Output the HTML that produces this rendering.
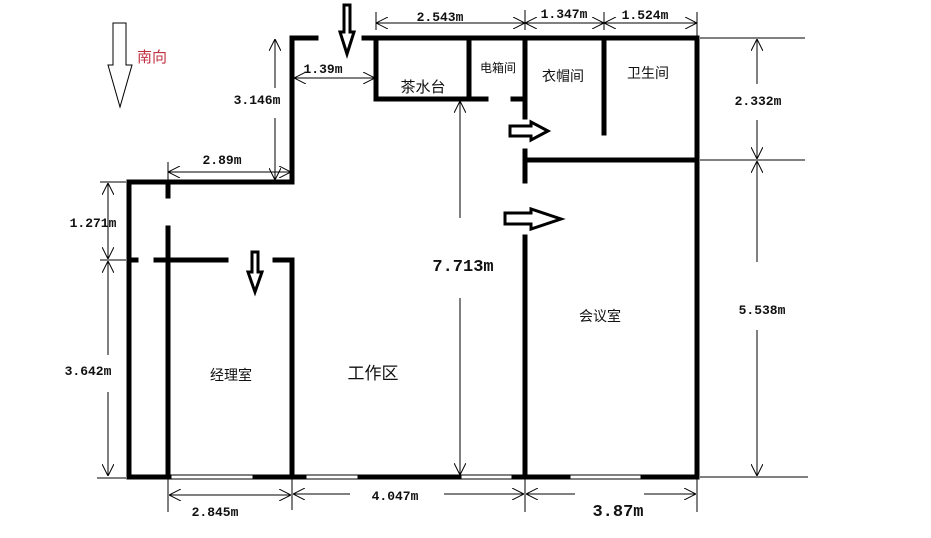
<!DOCTYPE html>
<html><head><meta charset="utf-8"><style>
html,body{margin:0;padding:0;background:#fff;}
svg{display:block}
text{font-family:"Liberation Mono","Noto Serif CJK SC",monospace;font-weight:bold;fill:#111;}
.c{font-family:"Liberation Sans","Noto Sans CJK SC",sans-serif;font-weight:normal;}
</style></head><body>
<svg width="931" height="538" viewBox="0 0 931 538" xmlns="http://www.w3.org/2000/svg">
<defs>
<marker id="a" viewBox="0 0 12 12" refX="12" refY="6" markerWidth="12" markerHeight="12" markerUnits="userSpaceOnUse" orient="auto-start-reverse">
<path d="M0,0 L12,6 L0,12" fill="none" stroke="#000" stroke-width="1"/>
</marker>
</defs>
<rect width="931" height="538" fill="#fff"/>
<g stroke="#000" stroke-width="5" fill="none" stroke-linecap="square">
<line x1="292" y1="38" x2="316" y2="38"/>
<line x1="364" y1="38" x2="697" y2="38"/>
<line x1="292" y1="38" x2="292" y2="182"/>
<line x1="129" y1="182" x2="292" y2="182"/>
<line x1="129" y1="182" x2="129" y2="477"/>
<line x1="697" y1="38" x2="697" y2="477"/>
<line x1="168" y1="182" x2="168" y2="196"/>
<line x1="168" y1="228" x2="168" y2="477"/>
<line x1="129" y1="260" x2="136" y2="260"/>
<line x1="156" y1="260" x2="226" y2="260"/>
<line x1="275" y1="260" x2="292" y2="260"/>
<line x1="292" y1="260" x2="292" y2="477"/>
<line x1="376" y1="38" x2="376" y2="99"/>
<line x1="376" y1="99" x2="486" y2="99"/>
<line x1="469" y1="38" x2="469" y2="99"/>
<line x1="513" y1="99" x2="525" y2="99"/>
<line x1="525" y1="38" x2="525" y2="117"/>
<line x1="525" y1="151" x2="525" y2="181"/>
<line x1="525" y1="237" x2="525" y2="477"/>
<line x1="525" y1="160" x2="697" y2="160"/>
<line x1="604" y1="38" x2="604" y2="133"/>
<line x1="129" y1="477" x2="697" y2="477"/>
</g>
<g fill="#fff" stroke="#000" stroke-width="1">
<rect x="171" y="475" width="82" height="4"/>
<rect x="306" y="475" width="52" height="4"/>
<rect x="461" y="475" width="51" height="4"/>
<rect x="570" y="475" width="71" height="4"/>
</g>
<g fill="#fff" stroke="#000" stroke-width="3" stroke-linejoin="miter">
<path d="M344,5 L350,5 L350,32 L354,32 L347,54 L340,32 L344,32 Z"/>
<path d="M252,252 L258,252 L258,272 L262,272 L255,292 L248,272 L252,272 Z"/>
<path d="M510,126 L531,126 L531,122 L548,131 L531,140 L531,136 L510,136 Z"/>
<path d="M505,213 L531,213 L531,209 L561,219 L531,229 L531,224 L505,224 Z"/>
</g>
<path d="M113,23 L126,23 L126,65 L132,65 L120,107 L108,65 L113,65 Z" fill="#fff" stroke="#000" stroke-width="1"/>
<g stroke="#000" stroke-width="1" fill="none">
<line x1="376" y1="12" x2="376" y2="30"/><line x1="525" y1="10" x2="525" y2="30"/><line x1="604" y1="12" x2="604" y2="30"/><line x1="697" y1="12" x2="697" y2="36"/>
<line x1="376" y1="23" x2="525" y2="23" marker-start="url(#a)" marker-end="url(#a)"/>
<line x1="525" y1="23" x2="604" y2="23" marker-start="url(#a)" marker-end="url(#a)"/>
<line x1="604" y1="23" x2="697" y2="23" marker-start="url(#a)" marker-end="url(#a)"/>
<line x1="294" y1="78" x2="375" y2="78" marker-start="url(#a)" marker-end="url(#a)"/>
<line x1="275" y1="39" x2="275" y2="88" marker-start="url(#a)"/>
<line x1="275" y1="118" x2="275" y2="180" marker-end="url(#a)"/>
<line x1="168" y1="162" x2="168" y2="182"/>
<line x1="168" y1="172" x2="291" y2="172" marker-start="url(#a)" marker-end="url(#a)"/>
<line x1="100" y1="182" x2="126" y2="182"/><line x1="100" y1="260" x2="126" y2="260"/><line x1="97" y1="478" x2="126" y2="478"/>
<line x1="108" y1="183" x2="108" y2="259" marker-start="url(#a)" marker-end="url(#a)"/>
<line x1="108" y1="261" x2="108" y2="355" marker-start="url(#a)"/>
<line x1="108" y1="392" x2="108" y2="476" marker-end="url(#a)"/>
<line x1="460" y1="101" x2="460" y2="218" marker-start="url(#a)"/>
<line x1="460" y1="298" x2="460" y2="475" marker-end="url(#a)"/>
<line x1="700" y1="38" x2="805" y2="38"/><line x1="700" y1="160" x2="805" y2="160"/><line x1="700" y1="477" x2="808" y2="477"/>
<line x1="757" y1="39" x2="757" y2="84" marker-start="url(#a)"/>
<line x1="757" y1="120" x2="757" y2="159" marker-end="url(#a)"/>
<line x1="757" y1="161" x2="757" y2="262" marker-start="url(#a)"/>
<line x1="757" y1="330" x2="757" y2="476" marker-end="url(#a)"/>
<line x1="168" y1="479" x2="168" y2="512"/><line x1="292" y1="479" x2="292" y2="510"/><line x1="525" y1="479" x2="525" y2="512"/><line x1="697" y1="479" x2="697" y2="512"/>
<line x1="169" y1="495" x2="291" y2="495" marker-start="url(#a)" marker-end="url(#a)"/>
<line x1="293" y1="494" x2="350" y2="494" marker-start="url(#a)"/>
<line x1="444" y1="494" x2="524" y2="494" marker-end="url(#a)"/>
<line x1="526" y1="494" x2="575" y2="494" marker-start="url(#a)"/>
<line x1="644" y1="494" x2="696" y2="494" marker-end="url(#a)"/>
</g>
<g font-size="13" text-anchor="middle">
<text x="440" y="21">2.543m</text>
<text x="564" y="18">1.347m</text>
<text x="645" y="19">1.524m</text>
<text x="323" y="73">1.39m</text>
<text x="257" y="104">3.146m</text>
<text x="222" y="164">2.89m</text>
<text x="93" y="227">1.271m</text>
<text x="88" y="375">3.642m</text>
<text x="758" y="105">2.332m</text>
<text x="762" y="314">5.538m</text>
<text x="215" y="516">2.845m</text>
<text x="395" y="500">4.047m</text>
<text x="463" y="271" font-size="17">7.713m</text>
<text x="618" y="516" font-size="17">3.87m</text>
</g>
<g text-anchor="middle">
<text class="c" x="423" y="92" font-size="15">茶水台</text>
<text class="c" x="498" y="72" font-size="12">电箱间</text>
<text class="c" x="563" y="81" font-size="14">衣帽间</text>
<text class="c" x="648" y="78" font-size="14">卫生间</text>
<text class="c" x="600" y="321" font-size="14">会议室</text>
<text class="c" x="231" y="380" font-size="14">经理室</text>
<text class="c" x="373" y="379" font-size="17">工作区</text>
<text class="c" x="152" y="62" font-size="15" style="fill:#c03040">南向</text>
</g>
</svg>
</body></html>
